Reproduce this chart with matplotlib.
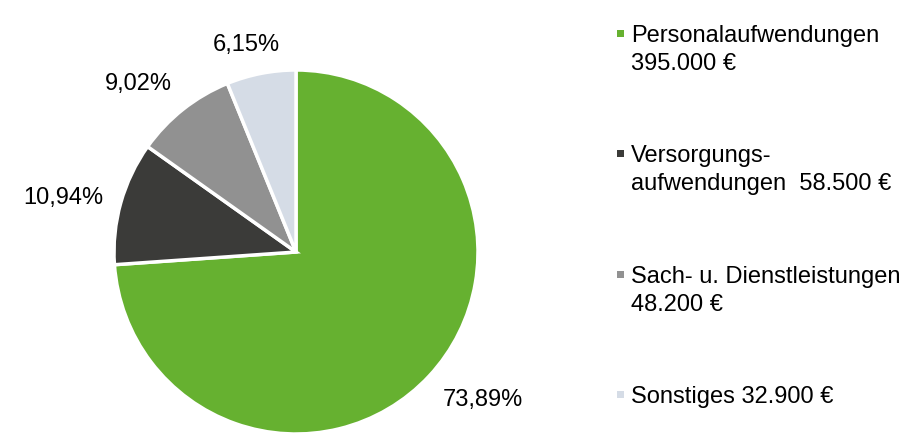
import numpy as np
import matplotlib
matplotlib.use("Agg")
import matplotlib.pyplot as plt
from matplotlib.patches import Rectangle

plt.rcParams['font.family'] = ['Liberation Sans', 'DejaVu Sans']

categories = ["Personalaufwendungen", "Versorgungsaufwendungen", "Sach- u. Dienstleistungen", "Sonstiges"]
values = [395000, 58500, 48200, 32900]
legend_labels = ["Personalaufwendungen\n395.000 €",
                 "Versorgungs-\naufwendungen  58.500 €",
                 "Sach- u. Dienstleistungen\n48.200 €",
                 "Sonstiges 32.900 €"]
colors = ["#66B130", "#3B3B39", "#919191", "#D5DCE6"]

W, H = 923, 433
fig = plt.figure(figsize=(W / 100, H / 100), dpi=100)

cx, cy, r = 296, 252, 182
ax = fig.add_axes([(cx - r) / W, (H - cy - r) / H, 2 * r / W, 2 * r / H])
wedges, _ = ax.pie(values, colors=colors, startangle=90, counterclock=False,
                   radius=1.0, wedgeprops=dict(edgecolor="white", linewidth=2.5))
ax.set_xlim(-1, 1)
ax.set_ylim(-1, 1)
ax.set_aspect("equal")
ax.axis("off")

total = sum(values)
fs = 17
for w, v in zip(wedges, values):
    mid = np.deg2rad((w.theta1 + w.theta2) / 2)
    c, s = np.cos(mid), np.sin(mid)
    d = 1.1
    x, y = d * c, d * s
    ha = "center" if abs(c) < 0.3 else ("left" if c > 0 else "right")
    va = "center" if abs(s) < 0.3 else ("bottom" if s > 0 else "top")
    if ha == "center":
        x -= 0.06
    pct = f"{100 * v / total:.2f}".replace(".", ",") + "%"
    ax.text(x, y, pct, ha=ha, va=va, fontsize=fs, color="black")

# legend
x_mark, x_text = 617, 631
y0, step, line_h = 42, 120.3, 28
for i, (lab, col) in enumerate(zip(legend_labels, colors)):
    yb = y0 + i * step
    fig.patches.append(Rectangle((x_mark / W, 1 - (yb - 5) / H), 7 / W, 7 / H,
                                 transform=fig.transFigure, facecolor=col,
                                 edgecolor="none"))
    for k, line in enumerate(lab.split("\n")):
        fig.text(x_text / W, 1 - (yb + k * line_h) / H, line, fontsize=fs,
                 ha="left", va="baseline", color="black")

fig.savefig("out.png", dpi=100)
